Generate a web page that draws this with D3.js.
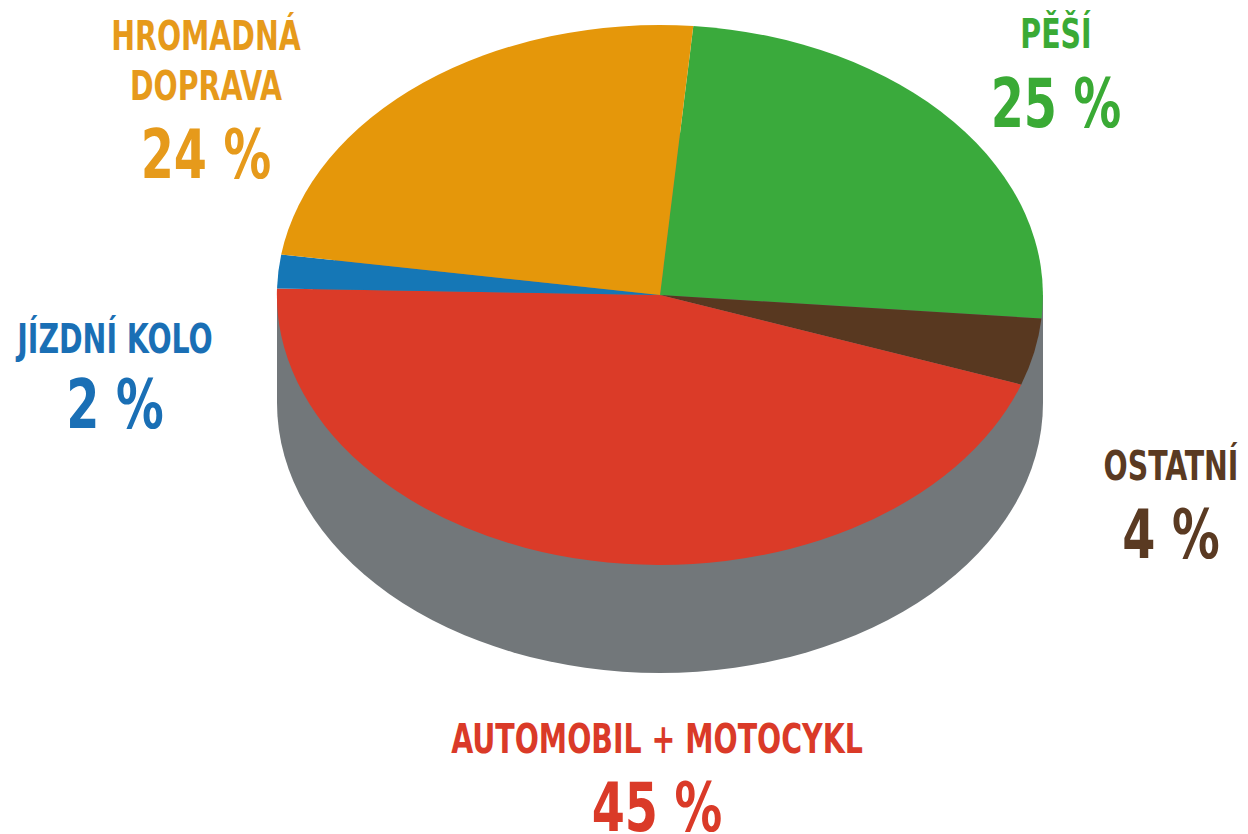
<!DOCTYPE html>
<html>
<head>
<meta charset="utf-8">
<script src="https://cdn.jsdelivr.net/npm/d3@7"></script>
<style>
  body { margin: 0; background: #fff; }
  text { font-family: "Liberation Sans Narrow", "DejaVu Sans Condensed", "Roboto Condensed", sans-serif; font-weight: bold; }
</style>
</head>
<body>
<div id="chart"></div>
<script>
// Data
const categories = ["PĚŠÍ", "OSTATNÍ", "AUTOMOBIL + MOTOCYKL", "JÍZDNÍ KOLO", "HROMADNÁ DOPRAVA"];
const shares = [25, 4, 45, 2, 24];
const colors = ["#3aaa3c", "#583820", "#db3b28", "#1577b6", "#e5970a"];
const textColors = ["#3aaa35", "#5a3a22", "#da3a28", "#1a6fb5", "#e69a1b"];

const width = 1248, height = 834;
const cx = 660, cy = 295, rx = 383, ry = 270, depth = 108;
const squeeze = 0.79;

const svg = d3.select("#chart")
  .append("svg")
  .attr("width", width)
  .attr("height", height);

// Side of the cylinder (gray)
svg.append("ellipse")
  .attr("cx", cx).attr("cy", cy + depth)
  .attr("rx", rx).attr("ry", ry)
  .attr("fill", "#72777a");
svg.append("rect")
  .attr("x", cx - rx).attr("y", cy)
  .attr("width", rx * 2).attr("height", depth)
  .attr("fill", "#72777a");

// Top face
const start = 5 * Math.PI / 180;
const pie = d3.pie()
  .sort(null)
  .value(d => d)
  .startAngle(start)
  .endAngle(start + 2 * Math.PI);

const arc = d3.arc().innerRadius(0).outerRadius(1);

svg.append("g")
  .attr("transform", `translate(${cx},${cy}) scale(${rx},${ry})`)
  .selectAll("path")
  .data(pie(shares))
  .enter()
  .append("path")
  .attr("d", arc)
  .attr("fill", (d, i) => colors[i]);

// Labels
const labels = [
  { lines: ["PĚŠÍ"], x: 1056, y: 48, ny: 127 },
  { lines: ["OSTATNÍ"], x: 1171, y: 480, ny: 558 },
  { lines: ["AUTOMOBIL + MOTOCYKL"], x: 657, y: 753, ny: 831 },
  { lines: ["JÍZDNÍ KOLO"], x: 115, y: 353, ny: 428 },
  { lines: ["HROMADNÁ", "DOPRAVA"], x: 206, y: 50, ny: 178 }
];

const lab = svg.selectAll("g.label")
  .data(labels)
  .enter()
  .append("g")
  .attr("class", "label")
  .attr("fill", (d, i) => textColors[i]);

lab.each(function(d, i) {
  const g = d3.select(this);
  d.lines.forEach((line, j) => {
    g.append("text")
      .attr("transform", `translate(${d.x},${d.y + j * 50}) scale(${squeeze},1)`)
      .attr("text-anchor", "middle")
      .style("font-size", "40px")
      .text(line);
  });
  g.append("text")
    .attr("transform", `translate(${d.x},${d.ny}) scale(${squeeze},1)`)
    .attr("text-anchor", "middle")
    .style("font-size", "67px")
    .text(shares[i] + " %");
});
</script>
</body>
</html>
